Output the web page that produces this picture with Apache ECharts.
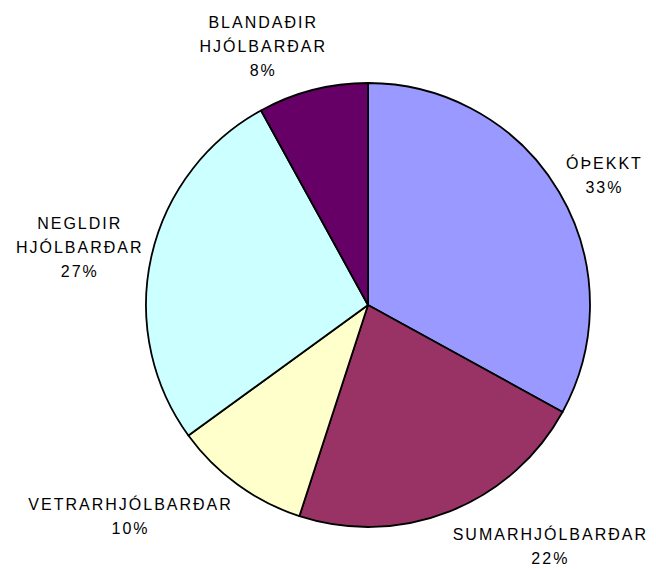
<!DOCTYPE html>
<html>
<head>
<meta charset="utf-8">
<script src="https://cdn.jsdelivr.net/npm/echarts@6/dist/echarts.min.js"></script>
<style>
  html, body { margin: 0; padding: 0; background: #fff; }
  #chart { width: 656px; height: 569px; }
  #chart svg text { letter-spacing: 2px; }
</style>
</head>
<body>
<div id="chart"></div>
<script>
const categories = ['ÓÞEKKT', 'SUMARHJÓLBARÐAR', 'VETRARHJÓLBARÐAR', 'NEGLDIR HJÓLBARÐAR', 'BLANDAÐIR HJÓLBARÐAR'];
const values = [33, 22, 10, 27, 8];
const colors = ['#9999FF', '#993366', '#FFFFCC', '#CCFFFF', '#660066'];

const CX = 368, CY = 305, R = 222, GAP = 8;
const total = values.reduce((a, b) => a + b, 0);
const midAngles = [];
let cum = 0;
values.forEach(v => { midAngles.push((cum + v / 2) / total * Math.PI * 2); cum += v; });
const clamp = x => Math.max(-1, Math.min(1, x));

const chart = echarts.init(document.getElementById('chart'), null, { renderer: 'svg' });
chart.setOption({
  animation: false,
  backgroundColor: '#ffffff',
  color: colors,
  series: [{
    type: 'pie',
    center: [CX, CY],
    radius: R,
    startAngle: 90,
    clockwise: true,
    avoidLabelOverlap: false,
    data: categories.map((c, i) => ({ name: c, value: values[i] })),
    itemStyle: { borderColor: '#000', borderWidth: 1.8 },
    emphasis: { disabled: true },
    labelLine: { show: false },
    label: {
      show: true,
      position: 'outside',
      formatter: p => p.name.replace(' ', '\n') + '\n' + Math.round(p.percent) + '%',
      fontFamily: 'Liberation Sans, Arial, sans-serif',
      fontSize: 16,
      lineHeight: 24,
      color: '#000',
      align: 'center'
    },
    labelLayout: function (params) {
      const i = params.dataIndex;
      const th = midAngles[i];
      const s = Math.sin(th), c = Math.cos(th);
      const px = CX + (R + GAP) * s;
      const py = CY - (R + GAP) * c;
      const lines = params.text.split('\n');
      const maxLen = Math.max.apply(null, lines.map(l => l.length));
      const w = params.labelRect.width + maxLen * 2;
      const h = params.labelRect.height;
      return {
        x: px + w / 2 * clamp(3 * s),
        y: py + (h / 2 + 2) * clamp(-1.1 * c) + 2,
        align: 'center',
        verticalAlign: 'middle'
      };
    }
  }]
});
</script>
</body>
</html>
